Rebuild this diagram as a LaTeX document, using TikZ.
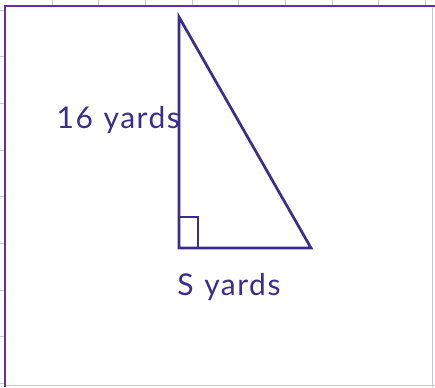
\documentclass[tikz,border=0pt]{standalone}
\usepackage{fontspec}
\setmainfont{Lato}[LetterSpace=5,WordSpace={1.15}]
\definecolor{tri}{HTML}{3A2D8E}
\definecolor{frame}{HTML}{6A2C9E}
\definecolor{tick}{HTML}{CDBFDD}
\begin{document}
\begin{tikzpicture}[x=1pt,y=1pt,
  side/.style={draw=tri,line width=2.7pt,line join=miter},
  lbl/.style={text=tri,font=\fontsize{30}{30}\selectfont,inner sep=0pt}]
\useasboundingbox (0,0) rectangle (435,-387);
\fill[white] (0,0) rectangle (435,-387);
% grid stubs
\foreach \x in {52,98.7,145.4,192,238.7,285.4,332,378.7,425.4}
  \draw[tick,line width=0.8pt] (\x,0) -- (\x,-6);
\foreach \y in {10,56.7,103.4,150,196.7,243.4,290,336.7,383.4}
  \draw[tick,line width=0.8pt] (0,-\y) -- (5,-\y);
\draw[tick,line width=0.8pt] (432,-6) -- (432,-387);
\draw[tick,line width=0.8pt] (5,-385) -- (435,-385);
% frame
\draw[frame,line width=2.8pt] (5,-387) -- (5,-6) -- (435,-6);
% triangle
\coordinate (A) at (179,-17);
\coordinate (B) at (179,-248);
\coordinate (C) at (311,-248);
\draw[side] (A) -- (B) -- (C) -- cycle;
\draw[side] ([yshift=31pt]B) -| ([xshift=19pt]B);
% labels
\node[lbl,anchor=base east] (h) at (180,-129) {16 yards};
\node[lbl,anchor=base] (s) at (229,-295) {S yards};
\end{tikzpicture}
\end{document}
